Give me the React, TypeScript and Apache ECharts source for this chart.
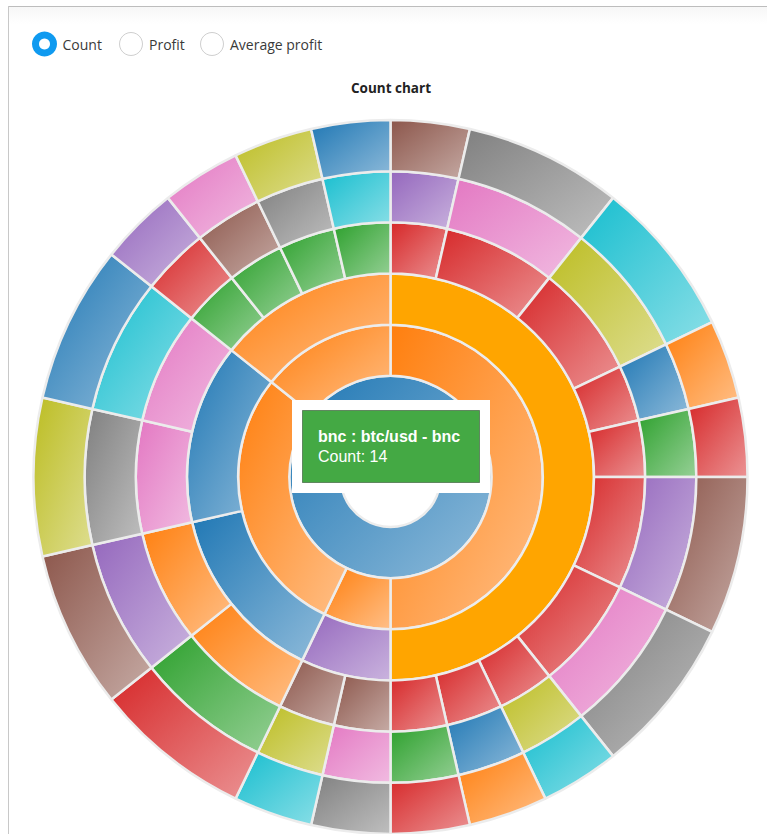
import React, { useEffect, useRef } from 'react';
import * as echarts from 'echarts';

// palette (d3 category10 + amber)
const PALETTE: Record<string, string> = {
  blue: '#1f77b4', orange: '#ff7f0e', green: '#2ca02c', red: '#d62728', purple: '#9467bd',
  brown: '#8c564b', pink: '#e377c2', gray: '#7f7f7f', olive: '#bcbd22', cyan: '#17becf', amber: '#ffa500',
};

// ring 1 (root)
const rootName = 'bnc';
const rootColor = 'blue';

// ring 2
const ring2Names = ['btc/usd - bnc', 'eth/usd - bnc', 'ltc/usd - bnc', 'xrp/usd - bnc'];
const ring2Colors = ['orange', 'orange', 'orange', 'orange'];

// ring 3
const ring3Names = ['rsi', 'macd', 'ema', 'sma', 'bb'];
const ring3Parent = [0, 1, 2, 2, 3];
const ring3Colors = ['amber', 'purple', 'blue', 'blue', 'orange'];

// ring 4 (each has one child in ring 5, which has one child in ring 6)
const ring4Parent = [0, 0, 0, 0, 0, 0, 0, 0, 0, 0, 1, 1, 2, 2, 3, 3, 4, 4, 4, 4];
const ring4Values = [1, 2, 2, 1, 1, 2, 2, 1, 1, 1, 1, 1, 2, 2, 2, 2, 1, 1, 1, 1];
const ring4Colors = ['red', 'red', 'red', 'red', 'red', 'red', 'red', 'red', 'red', 'red',
  'brown', 'brown', 'orange', 'orange', 'pink', 'pink', 'green', 'green', 'green', 'green'];
const ring5Colors = ['purple', 'pink', 'olive', 'blue', 'green', 'purple', 'pink', 'olive', 'blue', 'green',
  'pink', 'olive', 'green', 'purple', 'gray', 'cyan', 'red', 'brown', 'gray', 'cyan'];
const ring6Colors = ['brown', 'gray', 'cyan', 'orange', 'red', 'brown', 'gray', 'cyan', 'orange', 'red',
  'gray', 'cyan', 'red', 'brown', 'olive', 'blue', 'purple', 'pink', 'olive', 'blue'];

const radioLabels = ['Count', 'Profit', 'Average profit'];
const chartTitle = 'Count chart';
const tipTitle = 'bnc : btc/usd - bnc';
const tipValue = 'Count: 14';

function mix(hex: string, t: number) {
  const n = parseInt(hex.slice(1), 16);
  const r = (n >> 16) & 255, g = (n >> 8) & 255, b = n & 255;
  const f = (c: number) => Math.round(c + (255 - c) * t);
  return `rgb(${f(r)},${f(g)},${f(b)})`;
}

function fill(key: string): any {
  const base = PALETTE[key];
  if (key === 'amber') return base;
  return {
    type: 'linear', x: 0, y: 0, x2: 1, y2: 1,
    colorStops: [{ offset: 0, color: base }, { offset: 1, color: mix(base, 0.5) }],
  };
}

function buildData() {
  const r3 = ring3Names.map((name, i) => ({ name, itemStyle: { color: fill(ring3Colors[i]) }, children: [] as any[] }));
  ring4Parent.forEach((p, i) => {
    r3[p].children.push({
      name: 'r4-' + i,
      itemStyle: { color: fill(ring4Colors[i]) },
      children: [{
        name: 'r5-' + i,
        itemStyle: { color: fill(ring5Colors[i]) },
        children: [{ name: 'r6-' + i, value: ring4Values[i], itemStyle: { color: fill(ring6Colors[i]) } }],
      }],
    });
  });
  const r2 = ring2Names.map((name, i) => ({ name, itemStyle: { color: fill(ring2Colors[i]) }, children: [] as any[] }));
  ring3Parent.forEach((p, i) => r2[p].children.push(r3[i]));
  return [{ name: rootName, itemStyle: { color: fill(rootColor) }, children: r2 }];
}

const FONT = '"Open Sans", "Noto Sans", sans-serif';

export default function App() {
  const ref = useRef<HTMLDivElement>(null);
  useEffect(() => {
    if (!ref.current) return;
    const chart = echarts.init(ref.current, undefined, { renderer: 'svg' });
    const radioX = [44.5, 131, 212];
    const graphics: any[] = [
      { type: 'rect', z: 100, shape: { x: 8.5, y: 6.5, width: 760, height: 18 }, style: { fill: { type: 'linear', x: 0, y: 0, x2: 0, y2: 1, colorStops: [{ offset: 0, color: '#f7f7f7' }, { offset: 1, color: '#ffffff' }] } } },
      { type: 'line', z: 100, shape: { x1: 8, y1: 6.5, x2: 767, y2: 6.5 }, style: { stroke: '#bdbdbd', lineWidth: 1 } },
      { type: 'line', z: 100, shape: { x1: 8.5, y1: 6, x2: 8.5, y2: 834 }, style: { stroke: '#c8c8c8', lineWidth: 1 } },
    ];
    radioLabels.forEach((label, i) => {
      if (i === 0) {
        graphics.push({ type: 'circle', z: 100, shape: { cx: radioX[i], cy: 44, r: 12.5 }, style: { fill: '#0f9af0' } });
        graphics.push({ type: 'circle', z: 101, shape: { cx: radioX[i], cy: 44, r: 5.5 }, style: { fill: '#ffffff' } });
      } else {
        graphics.push({ type: 'circle', z: 100, shape: { cx: radioX[i], cy: 44, r: 11.5 }, style: { fill: '#ffffff', stroke: '#cfcfcf', lineWidth: 1 } });
      }
      graphics.push({
        type: 'text', z: 100, x: radioX[i] + 18, y: 44,
        style: { text: label, fill: '#3a3a3a', font: `14px ${FONT}`, textVerticalAlign: 'middle' },
      });
    });
    graphics.push({
      type: 'text', z: 100, x: 391, y: 88,
      style: { text: chartTitle, fill: '#222', font: `bold 13.5px ${FONT}`, textAlign: 'center', textVerticalAlign: 'middle' },
    });
    // static tooltip
    graphics.push({ type: 'rect', z: 100, shape: { x: 292, y: 400, width: 198, height: 93 }, style: { fill: '#ffffff' } });
    graphics.push({ type: 'rect', z: 101, shape: { x: 302.5, y: 410.5, width: 177, height: 72 }, style: { fill: '#44a944', stroke: '#1d3a1d', lineWidth: 1, lineDash: [1, 1] } });
    graphics.push({ type: 'text', z: 102, x: 318, y: 436.5, style: { text: tipTitle, fill: '#ffffff', font: 'bold 16px "Liberation Sans", Arial, sans-serif', textVerticalAlign: 'middle' } });
    graphics.push({ type: 'text', z: 102, x: 318, y: 456.5, style: { text: tipValue, fill: '#ffffff', font: '16px "Liberation Sans", Arial, sans-serif', textVerticalAlign: 'middle' } });

    chart.setOption({
      animation: false,
      series: [{
        type: 'sunburst',
        center: [390.5, 477],
        radius: [50, 357],
        sort: null,
        nodeClick: false,
        startAngle: 90,
        data: buildData(),
        label: { show: false },
        itemStyle: { borderColor: '#ececec', borderWidth: 2.5 },
        emphasis: { focus: 'none', label: { show: false } },
      }],
      graphic: graphics,
    });
    return () => chart.dispose();
  }, []);
  return (
    <div style={{ position: 'fixed', left: 0, top: 0, width: 767, height: 834, background: '#fff' }}>
      <div ref={ref} style={{ width: 767, height: 834 }} />
    </div>
  );
}
